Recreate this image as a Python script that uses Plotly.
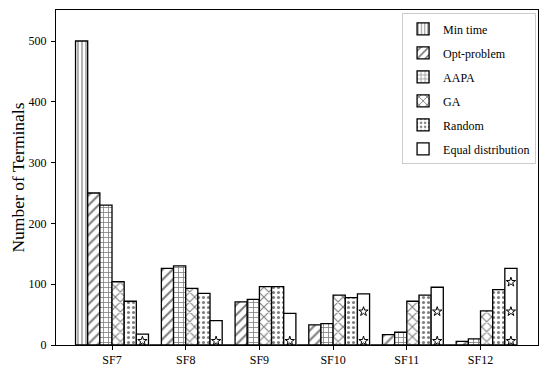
import plotly.graph_objects as go

# Data
categories = ["SF7", "SF8", "SF9", "SF10", "SF11", "SF12"]
min_time = [500, 0, 0, 0, 0, 0]
opt_problem = [250, 126, 71, 33, 17, 6]
aapa = [230, 130, 75, 35, 21, 10]
ga = [104, 93, 96, 82, 72, 56]
random_alloc = [72, 85, 96, 78, 82, 91]
equal_dist = [18, 40, 52, 84, 95, 126]

series = [
    ("Min time", min_time, "|", 4),
    ("Opt-problem", opt_problem, "/", 7),
    ("AAPA", aapa, "+", 5),
    ("GA", ga, "x", 7),
    ("Random", random_alloc, ".", 5),
    ("Equal distribution", equal_dist, "", 6),
]

FONT = "Liberation Serif"
width = 0.165
start = -0.495
xs = list(range(len(categories)))

fig = go.Figure()

for k, (name, vals, shape, size) in enumerate(series):
    fig.add_trace(go.Bar(
        x=xs, y=vals, name=name,
        width=width, offset=start + k * width,
        marker=dict(
            color="white",
            line=dict(color="black", width=1.3),
            pattern=dict(shape=shape, fgcolor="black", bgcolor="white",
                         size=size, solidity=0.3),
        ),
        legendgroup=name,
    ))

# star hatch for "Equal distribution"
star_x, star_y = [], []
k_eq = 5
for i, h in zip(xs, equal_dist):
    y = 6.5
    while y <= h - 6:
        star_x.append(i + start + k_eq * width + width / 2)
        star_y.append(y)
        y += 48.5
fig.add_trace(go.Scatter(
    x=star_x, y=star_y, mode="markers", showlegend=False, hoverinfo="skip",
    marker=dict(symbol="star-open", size=7, color="black", line=dict(width=1)),
))

# page body has an 8px margin, so the figure is sized to fit the window
fig.update_layout(
    width=542, height=362,
    margin=dict(l=48, r=12, t=2, b=25),
    plot_bgcolor="white", paper_bgcolor="white",
    barmode="overlay",
    font=dict(family=FONT, size=12, color="black"),
    showlegend=True,
    legend=dict(
        x=0.996, y=0.99, xanchor="right", yanchor="top",
        bordercolor="#cccccc", borderwidth=1, bgcolor="white",
        font=dict(family=FONT, size=12),
        traceorder="grouped", tracegroupgap=5,
    ),
)
fig.update_xaxes(
    tickvals=xs, ticktext=categories, range=[-0.76, 5.78],
    showline=True, linecolor="black", linewidth=1, mirror=True,
    ticks="outside", ticklen=4, tickcolor="black", showgrid=False, zeroline=False,
    tickfont=dict(family=FONT, size=12), automargin=False,
)
fig.update_yaxes(
    range=[0, 551], tickvals=[0, 100, 200, 300, 400, 500],
    showline=True, linecolor="black", linewidth=1, mirror=True,
    ticks="outside", ticklen=4, tickcolor="black", showgrid=False, zeroline=False,
    tickfont=dict(family=FONT, size=12), automargin=False, ticklabelstandoff=2,
    title=dict(text="Number of Terminals", font=dict(family=FONT, size=17.5), standoff=2),
)

fig.write_html("out.html")
